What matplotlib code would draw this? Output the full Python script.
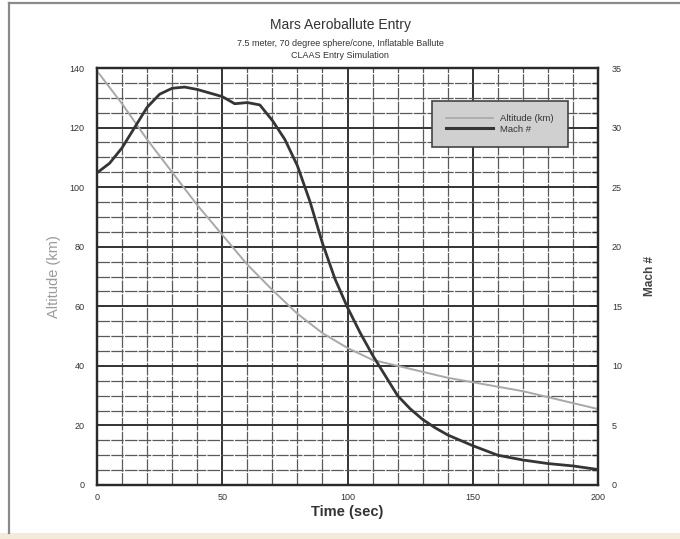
import matplotlib
matplotlib.use("Agg")
import matplotlib.pyplot as plt
from matplotlib.lines import Line2D
from matplotlib.patches import Rectangle
import numpy as np

plt.rcParams['font.family'] = ['Liberation Sans', 'DejaVu Sans']

# Data
alt_time = [0, 10, 20, 30, 40, 50, 60, 70, 80, 90, 100, 110, 120, 130, 140, 150, 160, 170, 180, 190, 200]
altitude_km = [139, 128, 116, 105, 94, 84, 74, 65.5, 57.5, 51, 46, 42, 40, 38, 36, 34.5, 33, 31.5, 29.5, 27.5, 25.5]

mach_time = [0, 5, 10, 15, 20, 25, 30, 35, 40, 45, 50, 55, 60, 65, 70, 75, 80, 85, 90, 95,
             100, 105, 110, 115, 120, 125, 130, 135, 140, 150, 160, 170, 180, 190, 200]
mach = [26.2, 27.0, 28.3, 30.0, 31.7, 32.8, 33.3, 33.4, 33.2, 32.9, 32.6, 32.0, 32.1, 31.9, 30.6, 29.0,
        26.8, 23.8, 20.3, 17.3, 14.9, 12.8, 10.9, 9.2, 7.5, 6.4, 5.5, 4.8, 4.2, 3.3, 2.5, 2.1, 1.8, 1.6, 1.3]

title = "Mars Aeroballute Entry"
subtitle1 = "7.5 meter, 70 degree sphere/cone, Inflatable Ballute"
subtitle2 = "CLAAS Entry Simulation"

fig = plt.figure(figsize=(6.8, 5.39), dpi=100)
fig.patch.set_facecolor('white')

# outer frame (scan border) and beige strip at bottom
fig.add_artist(Line2D([9/680, 9/680], [1-3/539, 1-533/539], color='#8a8a8a', lw=1.6, transform=fig.transFigure))
fig.add_artist(Line2D([9/680, 1.0], [1-3/539, 1-3/539], color='#8a8a8a', lw=1.6, transform=fig.transFigure))
fig.add_artist(Rectangle((0, 0), 1, 6/539, transform=fig.transFigure, facecolor='#f3ead8', edgecolor='none'))

left, right, top, bottom = 97/680, 598/680, 1-68/539, 1-485/539
ax = fig.add_axes([left, bottom, right-left, top-bottom])
ax2 = ax.twinx()

ax.set_xlim(0, 200)
ax.set_ylim(0, 140)
ax2.set_ylim(0, 35)

ax.set_xticks([0, 50, 100, 150, 200])
ax.set_xticks(np.arange(0, 201, 10), minor=True)
ax.set_yticks(np.arange(0, 141, 20))
ax.set_yticks(np.arange(0, 141, 5), minor=True)
ax2.set_yticks(np.arange(0, 36, 5))
ax2.set_yticks(np.arange(0, 35.1, 1.25), minor=True)

ax.grid(which='major', color='#333333', lw=1.4)
ax.grid(which='minor', color='#5a5a5a', lw=0.9, ls=(0, (10, 1)))
ax.set_axisbelow(True)

for a in (ax, ax2):
    for s in a.spines.values():
        s.set_color('#2a2a2a')
        s.set_linewidth(1.6)

ax.tick_params(axis='both', which='both', length=0, labelsize=6.5, labelcolor='#333333')
ax.tick_params(axis='x', pad=6)
ax.tick_params(axis='y', pad=9)
ax2.tick_params(axis='y', which='major', direction='in', length=6, width=1.3, color='#2a2a2a',
                labelsize=6.5, labelcolor='#333333', pad=10)
ax2.tick_params(axis='y', which='minor', direction='in', length=4, width=1.0, color='#2a2a2a')

l1, = ax.plot(alt_time, altitude_km, color='#a8a8a8', lw=1.4, zorder=3)
l2, = ax2.plot(mach_time, mach, color='#353535', lw=2.0, zorder=4)

ax.set_xlabel("Time (sec)", fontsize=10.5, fontweight='bold', color='#333333', labelpad=2)
ax.set_ylabel("Altitude (km)", fontsize=10.5, color='#9a9a9a', labelpad=6)
ax2.set_ylabel("Mach #", fontsize=8.5, fontweight='bold', color='#444444', labelpad=16)

fig.text(0.5, 1-25/539, title, ha='center', va='center', fontsize=10, color='#333333')
fig.text(0.5, 1-43/539, subtitle1, ha='center', va='center', fontsize=6.5, color='#333333')
fig.text(0.5, 1-55/539, subtitle2, ha='center', va='center', fontsize=6.5, color='#333333')

leg = ax2.legend([Line2D([], [], color='#a8a8a8', lw=1.2), Line2D([], [], color='#353535', lw=2.2)],
                 ["Altitude (km)", "Mach #"], loc='upper left',
                 bbox_to_anchor=(0.66, 0.808, 0.29, 0.125), bbox_transform=ax2.transAxes,
                 mode='expand', fontsize=6.8, frameon=True, fancybox=False, framealpha=1,
                 facecolor='#d0d0d0', edgecolor='#444444', borderpad=1.4, labelspacing=0.2,
                 handlelength=5, handletextpad=0.8)
leg.get_frame().set_linewidth(1.2)
leg.set_zorder(10)
for t in leg.get_texts():
    t.set_color('#333333')

fig.savefig("out.png", dpi=100, facecolor='white')
